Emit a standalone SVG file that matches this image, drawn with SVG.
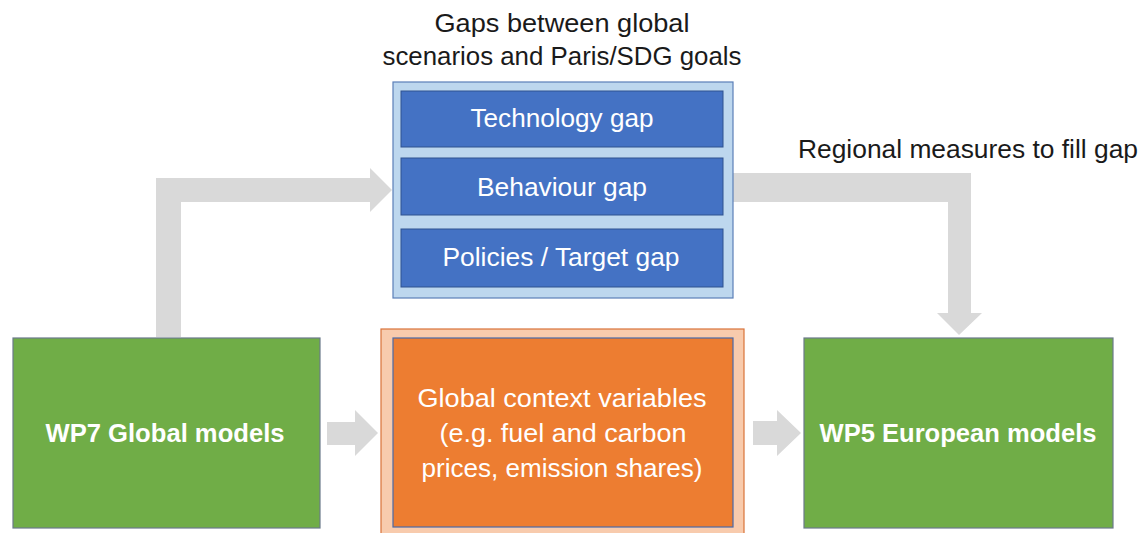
<svg xmlns="http://www.w3.org/2000/svg" width="1145" height="533" viewBox="0 0 1145 533">
<style>
text{font-family:"Liberation Sans",Arial,sans-serif;font-size:25px;text-anchor:middle}
.dark{fill:#1a1a1a}
.lt{fill:#ffffff}
.bold{font-weight:bold;fill:#ffffff}
.arrow{fill:#d9d9d9}
.gap{fill:#4472c4;stroke:#2f528f;stroke-width:1}
.green{fill:#70ad47;stroke:#6b7a8a;stroke-width:1.2}
</style>
<rect width="1145" height="533" fill="#ffffff"/>
<g id="connectors">
<polygon class="arrow" points="156,337 156,178 370,178 370,168 392,190 370,212 370,202 181,202 181,337"/>
<polygon class="arrow" points="733,173 971,173 971,313 982,313 959,335 937,313 948,313 948,202 733,202"/>
<polygon class="arrow" points="327,422 355,422 355,410 378,433 355,456 355,445 327,445"/>
<polygon class="arrow" points="753,421 777,421 777,410 801,433 777,456 777,445 753,445"/>
</g>
<g id="title">
<text class="dark" x="562" y="32" textLength="255" lengthAdjust="spacingAndGlyphs">Gaps between global</text>
<text class="dark" x="562" y="65" textLength="359" lengthAdjust="spacingAndGlyphs">scenarios and Paris/SDG goals</text>
</g>
<g id="regional-label">
<text class="dark" x="968" y="158" textLength="340" lengthAdjust="spacingAndGlyphs">Regional measures to fill gap</text>
</g>
<g id="gaps">
<rect x="393" y="82" width="340" height="216" fill="#bdd7ee" stroke="#5a7fb8" stroke-width="1.2"/>
<g id="technology-gap">
<rect class="gap" x="401" y="91" width="322" height="56"/>
<text class="lt" x="562" y="127" textLength="183" lengthAdjust="spacingAndGlyphs">Technology gap</text>
</g>
<g id="behaviour-gap">
<rect class="gap" x="401" y="158" width="322" height="57"/>
<text class="lt" x="562" y="196" textLength="170" lengthAdjust="spacingAndGlyphs">Behaviour gap</text>
</g>
<g id="policies-gap">
<rect class="gap" x="401" y="229" width="322" height="58"/>
<text class="lt" x="561" y="266" textLength="237" lengthAdjust="spacingAndGlyphs">Policies / Target gap</text>
</g>
</g>
<g id="wp7">
<rect class="green" x="13" y="338" width="307" height="190"/>
<text class="bold" x="165" y="442" textLength="239" lengthAdjust="spacingAndGlyphs">WP7 Global models</text>
</g>
<g id="context">
<rect x="381" y="329" width="363" height="210" fill="#f8cbad" stroke="#d9733a" stroke-width="1.2"/>
<rect x="393" y="338" width="340" height="189" fill="#ed7d31" stroke="#4a6aa8" stroke-width="1.2"/>
<text class="lt" x="562" y="407" textLength="289" lengthAdjust="spacingAndGlyphs">Global context variables</text>
<text class="lt" x="563" y="442" textLength="247" lengthAdjust="spacingAndGlyphs">(e.g. fuel and carbon</text>
<text class="lt" x="562" y="477" textLength="281" lengthAdjust="spacingAndGlyphs">prices, emission shares)</text>
</g>
<g id="wp5">
<rect class="green" x="804" y="338" width="309" height="190"/>
<text class="bold" x="958" y="442" textLength="277" lengthAdjust="spacingAndGlyphs">WP5 European models</text>
</g>
</svg>
